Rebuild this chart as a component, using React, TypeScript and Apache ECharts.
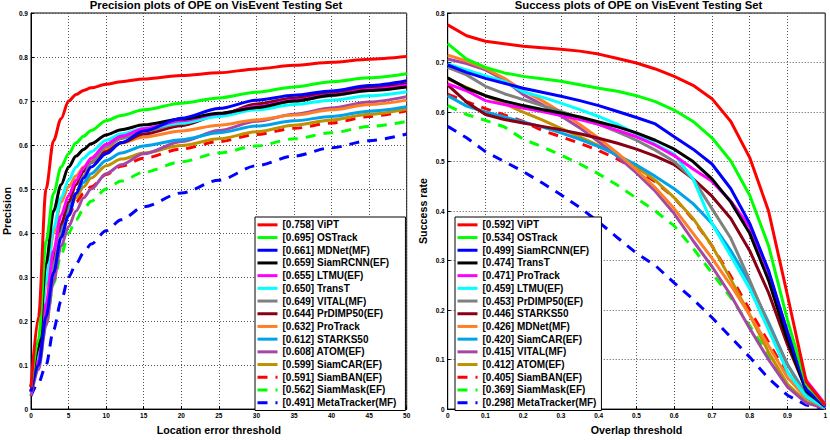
import React, { useEffect, useRef } from "react";
import * as echarts from "echarts";

// ---------- Precision plot (left) ----------
const locationThresholds = [0, 1, 2, 3, 4, 5, 6, 7, 8, 10, 12, 15, 20, 25, 30, 35, 40, 45, 50];
const precisionNames = ["ViPT", "OSTrack", "MDNet(MF)", "SiamRCNN(EF)", "LTMU(EF)", "TransT", "VITAL(MF)", "PrDIMP50(EF)", "ProTrack", "STARKS50", "ATOM(EF)", "SiamCAR(EF)", "SiamBAN(EF)", "SiamMask(EF)", "MetaTracker(MF)"];
const precisionScores = ["0.758", "0.695", "0.661", "0.659", "0.655", "0.650", "0.649", "0.644", "0.632", "0.612", "0.608", "0.599", "0.591", "0.562", "0.491"];

const precViPT = [0.05, 0.21, 0.50, 0.61, 0.66, 0.70, 0.715, 0.724, 0.73, 0.738, 0.744, 0.75, 0.758, 0.764, 0.773, 0.781, 0.788, 0.795, 0.801];
const precOSTrack = [0.05, 0.16, 0.38, 0.49, 0.55, 0.58, 0.605, 0.62, 0.633, 0.655, 0.667, 0.68, 0.695, 0.707, 0.72, 0.732, 0.744, 0.753, 0.762];
const precMDNet = [0.04, 0.10, 0.21, 0.31, 0.39, 0.44, 0.49, 0.525, 0.55, 0.58, 0.605, 0.632, 0.661, 0.683, 0.702, 0.713, 0.723, 0.735, 0.746];
const precSiamRCNN = [0.05, 0.14, 0.33, 0.45, 0.51, 0.55, 0.575, 0.59, 0.603, 0.623, 0.635, 0.646, 0.659, 0.672, 0.685, 0.70, 0.713, 0.724, 0.732];
const precLTMU = [0.04, 0.11, 0.24, 0.36, 0.44, 0.485, 0.52, 0.548, 0.57, 0.602, 0.62, 0.637, 0.655, 0.671, 0.687, 0.702, 0.714, 0.726, 0.736];
const precTransT = [0.05, 0.12, 0.29, 0.41, 0.48, 0.52, 0.55, 0.57, 0.585, 0.611, 0.625, 0.638, 0.65, 0.665, 0.68, 0.692, 0.702, 0.712, 0.721];
const precVITAL = [0.04, 0.10, 0.22, 0.33, 0.40, 0.44, 0.49, 0.53, 0.56, 0.596, 0.615, 0.632, 0.649, 0.668, 0.687, 0.70, 0.712, 0.724, 0.735];
const precPrDIMP = [0.04, 0.10, 0.22, 0.34, 0.42, 0.47, 0.51, 0.54, 0.56, 0.585, 0.605, 0.625, 0.644, 0.668, 0.693, 0.707, 0.719, 0.73, 0.739];
const precProTrack = [0.05, 0.13, 0.28, 0.40, 0.47, 0.505, 0.53, 0.55, 0.565, 0.59, 0.605, 0.618, 0.632, 0.645, 0.657, 0.668, 0.68, 0.692, 0.702];
const precSTARKS = [0.04, 0.10, 0.22, 0.34, 0.41, 0.46, 0.49, 0.515, 0.535, 0.565, 0.582, 0.598, 0.612, 0.628, 0.643, 0.655, 0.665, 0.677, 0.687];
const precATOM = [0.03, 0.09, 0.19, 0.29, 0.37, 0.415, 0.45, 0.48, 0.50, 0.535, 0.555, 0.58, 0.608, 0.633, 0.654, 0.67, 0.684, 0.698, 0.71];
const precSiamCAR = [0.04, 0.10, 0.21, 0.32, 0.40, 0.45, 0.48, 0.505, 0.525, 0.553, 0.568, 0.582, 0.599, 0.614, 0.63, 0.645, 0.657, 0.67, 0.682];
const precSiamBAN = [0.04, 0.12, 0.23, 0.33, 0.395, 0.44, 0.47, 0.49, 0.505, 0.533, 0.552, 0.57, 0.591, 0.608, 0.624, 0.638, 0.65, 0.665, 0.678];
const precSiamMask = [0.04, 0.095, 0.19, 0.285, 0.35, 0.40, 0.43, 0.455, 0.472, 0.50, 0.518, 0.538, 0.562, 0.582, 0.598, 0.614, 0.628, 0.642, 0.654];
const precMetaTracker = [0.03, 0.06, 0.10, 0.18, 0.245, 0.30, 0.33, 0.355, 0.375, 0.405, 0.43, 0.46, 0.491, 0.52, 0.553, 0.575, 0.594, 0.61, 0.625];

const precisionValues = [precViPT, precOSTrack, precMDNet, precSiamRCNN, precLTMU, precTransT, precVITAL, precPrDIMP, precProTrack, precSTARKS, precATOM, precSiamCAR, precSiamBAN, precSiamMask, precMetaTracker];

// ---------- Success plot (right) ----------
const overlapThresholds = [0, 0.05, 0.1, 0.15, 0.2, 0.25, 0.3, 0.35, 0.4, 0.45, 0.5, 0.55, 0.6, 0.65, 0.7, 0.75, 0.8, 0.85, 0.9, 0.95, 1];
const successNames = ["ViPT", "OSTrack", "SiamRCNN(EF)", "TransT", "ProTrack", "LTMU(EF)", "PrDIMP50(EF)", "STARKS50", "MDNet(MF)", "SiamCAR(EF)", "VITAL(MF)", "ATOM(EF)", "SiamBAN(EF)", "SiamMask(EF)", "MetaTracker(MF)"];
const successScores = ["0.592", "0.534", "0.499", "0.474", "0.471", "0.459", "0.453", "0.446", "0.426", "0.420", "0.415", "0.412", "0.405", "0.369", "0.298"];

const succViPT = [0.776, 0.754, 0.743, 0.738, 0.733, 0.730, 0.727, 0.723, 0.717, 0.708, 0.699, 0.687, 0.672, 0.654, 0.627, 0.581, 0.508, 0.40, 0.23, 0.055, 0.008];
const succOSTrack = [0.738, 0.707, 0.690, 0.679, 0.672, 0.667, 0.662, 0.655, 0.648, 0.642, 0.633, 0.621, 0.604, 0.581, 0.548, 0.501, 0.432, 0.33, 0.18, 0.05, 0.008];
const succSiamRCNN = [0.695, 0.68, 0.668, 0.658, 0.648, 0.64, 0.632, 0.623, 0.613, 0.601, 0.589, 0.576, 0.55, 0.525, 0.495, 0.445, 0.375, 0.28, 0.155, 0.04, 0.005];
const succTransT = [0.669, 0.648, 0.633, 0.622, 0.613, 0.605, 0.598, 0.59, 0.58, 0.57, 0.558, 0.543, 0.525, 0.50, 0.465, 0.418, 0.355, 0.26, 0.14, 0.036, 0.005];
const succProTrack = [0.657, 0.643, 0.623, 0.615, 0.608, 0.601, 0.593, 0.585, 0.575, 0.563, 0.55, 0.533, 0.512, 0.485, 0.46, 0.42, 0.368, 0.275, 0.157, 0.058, 0.01];
const succLTMU = [0.697, 0.685, 0.673, 0.662, 0.641, 0.63, 0.618, 0.605, 0.591, 0.575, 0.556, 0.535, 0.515, 0.465, 0.375, 0.309, 0.243, 0.16, 0.075, 0.025, 0.003];
const succPrDIMP = [0.69, 0.675, 0.652, 0.637, 0.625, 0.613, 0.601, 0.588, 0.575, 0.56, 0.543, 0.523, 0.50, 0.465, 0.405, 0.345, 0.26, 0.17, 0.09, 0.024, 0.003];
const succSTARKS = [0.655, 0.62, 0.595, 0.585, 0.578, 0.571, 0.564, 0.556, 0.547, 0.537, 0.525, 0.511, 0.494, 0.465, 0.43, 0.385, 0.32, 0.235, 0.13, 0.038, 0.005];
const succMDNet = [0.715, 0.703, 0.688, 0.668, 0.643, 0.623, 0.60, 0.575, 0.547, 0.517, 0.483, 0.447, 0.405, 0.355, 0.305, 0.25, 0.19, 0.128, 0.064, 0.022, 0.002];
const succSiamCAR = [0.633, 0.612, 0.60, 0.59, 0.58, 0.57, 0.558, 0.545, 0.53, 0.513, 0.493, 0.47, 0.445, 0.415, 0.375, 0.32, 0.255, 0.175, 0.09, 0.03, 0.003];
const succVITAL = [0.707, 0.698, 0.685, 0.665, 0.635, 0.615, 0.592, 0.568, 0.54, 0.51, 0.477, 0.44, 0.395, 0.34, 0.288, 0.23, 0.163, 0.10, 0.045, 0.012, 0.002];
const succATOM = [0.667, 0.65, 0.633, 0.617, 0.60, 0.584, 0.567, 0.55, 0.532, 0.512, 0.489, 0.462, 0.427, 0.385, 0.33, 0.262, 0.19, 0.115, 0.05, 0.015, 0.002];
const succSiamBAN = [0.636, 0.621, 0.607, 0.594, 0.581, 0.563, 0.55, 0.537, 0.522, 0.505, 0.484, 0.459, 0.427, 0.383, 0.33, 0.268, 0.20, 0.135, 0.07, 0.022, 0.003];
const succSiamMask = [0.613, 0.595, 0.583, 0.57, 0.545, 0.53, 0.513, 0.495, 0.475, 0.452, 0.426, 0.40, 0.37, 0.325, 0.275, 0.225, 0.168, 0.11, 0.05, 0.014, 0.002];
const succMetaTracker = [0.571, 0.548, 0.52, 0.50, 0.48, 0.457, 0.433, 0.407, 0.378, 0.346, 0.315, 0.29, 0.255, 0.222, 0.185, 0.145, 0.105, 0.062, 0.028, 0.008, 0.001];

const successValues = [succViPT, succOSTrack, succSiamRCNN, succTransT, succProTrack, succLTMU, succPrDIMP, succSTARKS, succMDNet, succSiamCAR, succVITAL, succATOM, succSiamBAN, succSiamMask, succMetaTracker];

// ---------- styles by rank ----------
const rankColors = ["#ff0000", "#00ff00", "#0000ff", "#000000", "#ff00ff", "#00ffff", "#808080", "#880015", "#ff7f27", "#00a2e8", "#a349a4", "#bf9000", "#ff0000", "#00ff00", "#0000ff"];
const rankDashed = [false, false, false, false, false, false, false, false, false, false, false, false, true, true, true];

const FONT = "'Liberation Sans', Arial, Helvetica, sans-serif";

function buildOption() {
  const leftLabels = precisionNames.map((n, i) => `[${precisionScores[i]}] ${n}`);
  const rightLabels = successNames.map((n, i) => `[${successScores[i]}] ${n}`);

  const makeSeries = (labels: string[], xs: number[], values: number[][], axis: number, smooth: boolean) =>
    labels.map((label, i) => ({
      type: "line",
      name: label,
      xAxisIndex: axis,
      yAxisIndex: axis,
      data: xs.map((x, j) => [x, values[i][j]]),
      symbol: "none",
      showSymbol: false,
      smooth: smooth ? 0.3 : false,
      smoothMonotone: smooth ? "x" : undefined,
      lineStyle: {
        color: rankColors[i],
        width: 3,
        type: rankDashed[i] ? [10, 8] : "solid",
      },
      itemStyle: { color: rankColors[i] },
      z: 2 + (labels.length - i) * 0.01,
    }));

  const tickLabel = { fontSize: 6.5, fontWeight: "bold", color: "#000", fontFamily: FONT, margin: 3 };
  const axisLine = { show: true, onZero: false, lineStyle: { color: "#000", width: 1 } };
  const axisTick = { show: true, inside: true, length: 3, lineStyle: { color: "#000" } };
  const splitLine = { show: true, lineStyle: { color: "#555", width: 1, type: [1, 2] } };
  const nameStyle = { fontSize: 10.7, fontWeight: "bold", color: "#000", fontFamily: FONT };

  const legendBase = {
    orient: "vertical",
    top: 217,
    itemWidth: 20,
    itemHeight: 10,
    itemGap: 0,
    backgroundColor: "#ffffff",
    borderColor: "#000000",
    borderWidth: 1,
    borderRadius: 0,
    selectedMode: false,
    itemStyle: { opacity: 0 },
    lineStyle: { width: 3, opacity: 1 },
    textStyle: { fontSize: 10, fontWeight: "bold", color: "#000", fontFamily: FONT, lineHeight: 12.7 },
  };

  return {
    animation: false,
    backgroundColor: "#ffffff",
    textStyle: { fontFamily: FONT },
    grid: [
      { left: 25.3, top: 13, width: 381.4, height: 403, show: true, borderColor: "#000", borderWidth: 1, backgroundColor: "transparent" },
      { left: 447.7, top: 13, width: 381.3, height: 403, show: true, borderColor: "#000", borderWidth: 1, backgroundColor: "transparent" },
    ],
    xAxis: [
      {
        type: "value", gridIndex: 0, min: 0, max: 50, interval: 5,
        name: "Location error threshold", nameLocation: "middle", nameGap: 12.5, nameTextStyle: nameStyle,
        axisLabel: tickLabel, axisLine, axisTick, splitLine,
      },
      {
        type: "value", gridIndex: 1, min: 0, max: 1, interval: 0.1,
        name: "Overlap threshold", nameLocation: "middle", nameGap: 12.5, nameTextStyle: nameStyle,
        axisLabel: tickLabel, axisLine, axisTick, splitLine,
      },
    ],
    yAxis: [
      {
        type: "value", gridIndex: 0, min: 0, max: 0.9, interval: 0.1,
        name: "Precision", nameLocation: "middle", nameGap: 19, nameTextStyle: nameStyle,
        axisLabel: tickLabel, axisLine, axisTick, splitLine,
      },
      {
        type: "value", gridIndex: 1, min: 0, max: 0.8, interval: 0.1,
        name: "Success rate", nameLocation: "middle", nameGap: 19, nameTextStyle: nameStyle,
        axisLabel: tickLabel, axisLine, axisTick, splitLine,
      },
    ],
    legend: [
      { ...legendBase, left: 255, data: leftLabels, padding: [1.5, 9, 1.5, 1] },
      { ...legendBase, left: 455, data: rightLabels, padding: [1.5, 5, 1.5, 1] },
    ],
    graphic: [
      {
        type: "text", x: 216, y: 5, silent: true,
        style: { text: "Precision plots of OPE on VisEvent Testing Set", textAlign: "center", textVerticalAlign: "middle", fontSize: 11.3, fontWeight: "bold", fontFamily: FONT, fill: "#000" },
      },
      {
        type: "text", x: 638.5, y: 5, silent: true,
        style: { text: "Success plots of OPE on VisEvent Testing Set", textAlign: "center", textVerticalAlign: "middle", fontSize: 11.3, fontWeight: "bold", fontFamily: FONT, fill: "#000" },
      },
    ],
    series: [
      ...makeSeries(leftLabels, locationThresholds, precisionValues, 0, true),
      ...makeSeries(rightLabels, overlapThresholds, successValues, 1, false),
    ],
  };
}

export default function App() {
  const ref = useRef<HTMLDivElement>(null);

  useEffect(() => {
    document.body.style.margin = "0";
    if (!ref.current) return;
    const chart = echarts.init(ref.current, undefined, { renderer: "svg" });
    chart.setOption(buildOption() as any);
    return () => {
      chart.dispose();
    };
  }, []);

  return <div ref={ref} style={{ width: 830, height: 440 }} />;
}
